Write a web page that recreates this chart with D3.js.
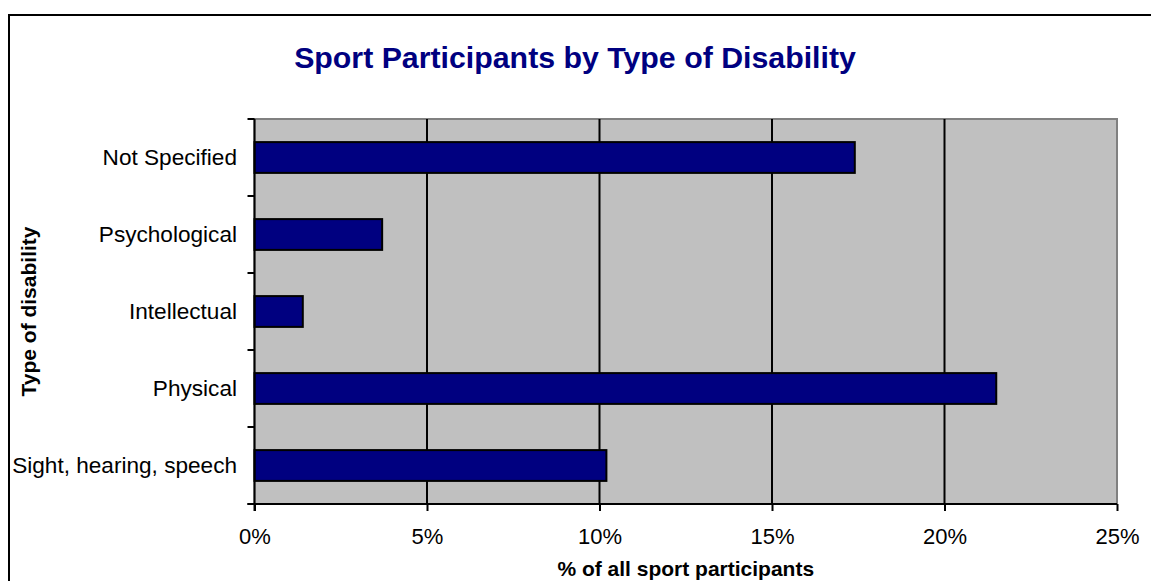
<!DOCTYPE html>
<html>
<head>
<meta charset="utf-8">
<script src="https://cdn.jsdelivr.net/npm/d3@7"></script>
<style>
  html, body { margin: 0; padding: 0; background: #fff; }
  svg { display: block; }
  text { font-family: Arial, "Liberation Sans", sans-serif; }
</style>
</head>
<body>
<svg id="chart" width="1151" height="581"></svg>
<script>
const categories = ["Not Specified", "Psychological", "Intellectual", "Physical", "Sight, hearing, speech"];
const values = [17.4, 3.7, 1.4, 21.5, 10.2];
const xTicks = [0, 5, 10, 15, 20, 25];
const titleText = "Sport Participants by Type of Disability";
const xTitle = "% of all sport participants";
const yTitle = "Type of disability";

(function () {
const svg = d3.select("#chart");
const pL = 254.5, pR = 1117, pT = 119, pB = 504;

// outer frame
svg.append("rect").attr("x", 9).attr("y", 15).attr("width", 1160).attr("height", 600)
  .attr("fill", "#fff").attr("stroke", "#000").attr("stroke-width", 2);

const x = d3.scaleLinear().domain([0, 25]).range([pL, pR]);
const y = d3.scaleBand().domain(categories).range([pT, pB]).paddingInner(0.6).paddingOuter(0.3);
const yb = d3.scaleBand().domain(categories).range([pT, pB]);

// plot area
svg.append("rect").attr("x", pL).attr("y", pT).attr("width", pR - pL).attr("height", pB - pT)
  .attr("fill", "#C0C0C0").attr("stroke", "#808080").attr("stroke-width", 2);

// gridlines
svg.append("g").selectAll("line").data(xTicks.filter(d => d > 0 && d < 25)).join("line")
  .attr("x1", d => x(d)).attr("x2", d => x(d)).attr("y1", pT).attr("y2", pB)
  .attr("stroke", "#000").attr("stroke-width", 2);

// bars
svg.append("g").selectAll("rect").data(categories).join("rect")
  .attr("x", x(0)).attr("y", d => y(d))
  .attr("width", (d, i) => x(values[i]) - x(0)).attr("height", y.bandwidth())
  .attr("fill", "#000080").attr("stroke", "#000").attr("stroke-width", 2);

// x axis
const xAxis = d3.axisBottom(x).tickValues(xTicks).tickFormat(d => d + "%").tickSize(7);
const gx = svg.append("g").attr("transform", `translate(0,${pB})`).call(xAxis);
gx.select(".domain").attr("stroke", "#000").attr("stroke-width", 2).attr("d", `M${pL - 7},0H${pR}`);
gx.selectAll(".tick line").attr("stroke", "#000").attr("stroke-width", 2);
gx.selectAll("text").attr("y", 32).attr("dy", null).attr("dominant-baseline", "central")
  .attr("font-size", 22).attr("fill", "#000").attr("font-family", "Arial, 'Liberation Sans', sans-serif");

// y axis: ticks at band boundaries
const boundaries = categories.map(c => yb(c)).concat([pB]);
svg.append("line").attr("x1", pL).attr("x2", pL).attr("y1", pT).attr("y2", pB + 7)
  .attr("stroke", "#000").attr("stroke-width", 2);
svg.append("g").selectAll("line").data(boundaries).join("line")
  .attr("x1", pL - 7).attr("x2", pL).attr("y1", d => d).attr("y2", d => d)
  .attr("stroke", "#000").attr("stroke-width", 2);
svg.append("g").selectAll("text").data(categories).join("text")
  .attr("x", 237).attr("y", d => yb(d) + yb.bandwidth() / 2)
  .attr("text-anchor", "end").attr("dominant-baseline", "central")
  .attr("font-size", 22.6).attr("fill", "#000").text(d => d);

// titles
svg.append("text").attr("x", 575).attr("y", 57).attr("text-anchor", "middle").attr("dominant-baseline", "central")
  .attr("font-size", 30.3).attr("font-weight", "bold").attr("fill", "#000080").text(titleText);
svg.append("text").attr("x", (pL + pR) / 2).attr("y", 568).attr("text-anchor", "middle").attr("dominant-baseline", "central")
  .attr("font-size", 21).attr("font-weight", "bold").attr("fill", "#000").text(xTitle);
svg.append("text").attr("transform", `translate(28,${(pT + pB) / 2}) rotate(-90)`)
  .attr("text-anchor", "middle").attr("dominant-baseline", "central")
  .attr("font-size", 21).attr("font-weight", "bold").attr("fill", "#000").text(yTitle);
})();
</script>
</body>
</html>
